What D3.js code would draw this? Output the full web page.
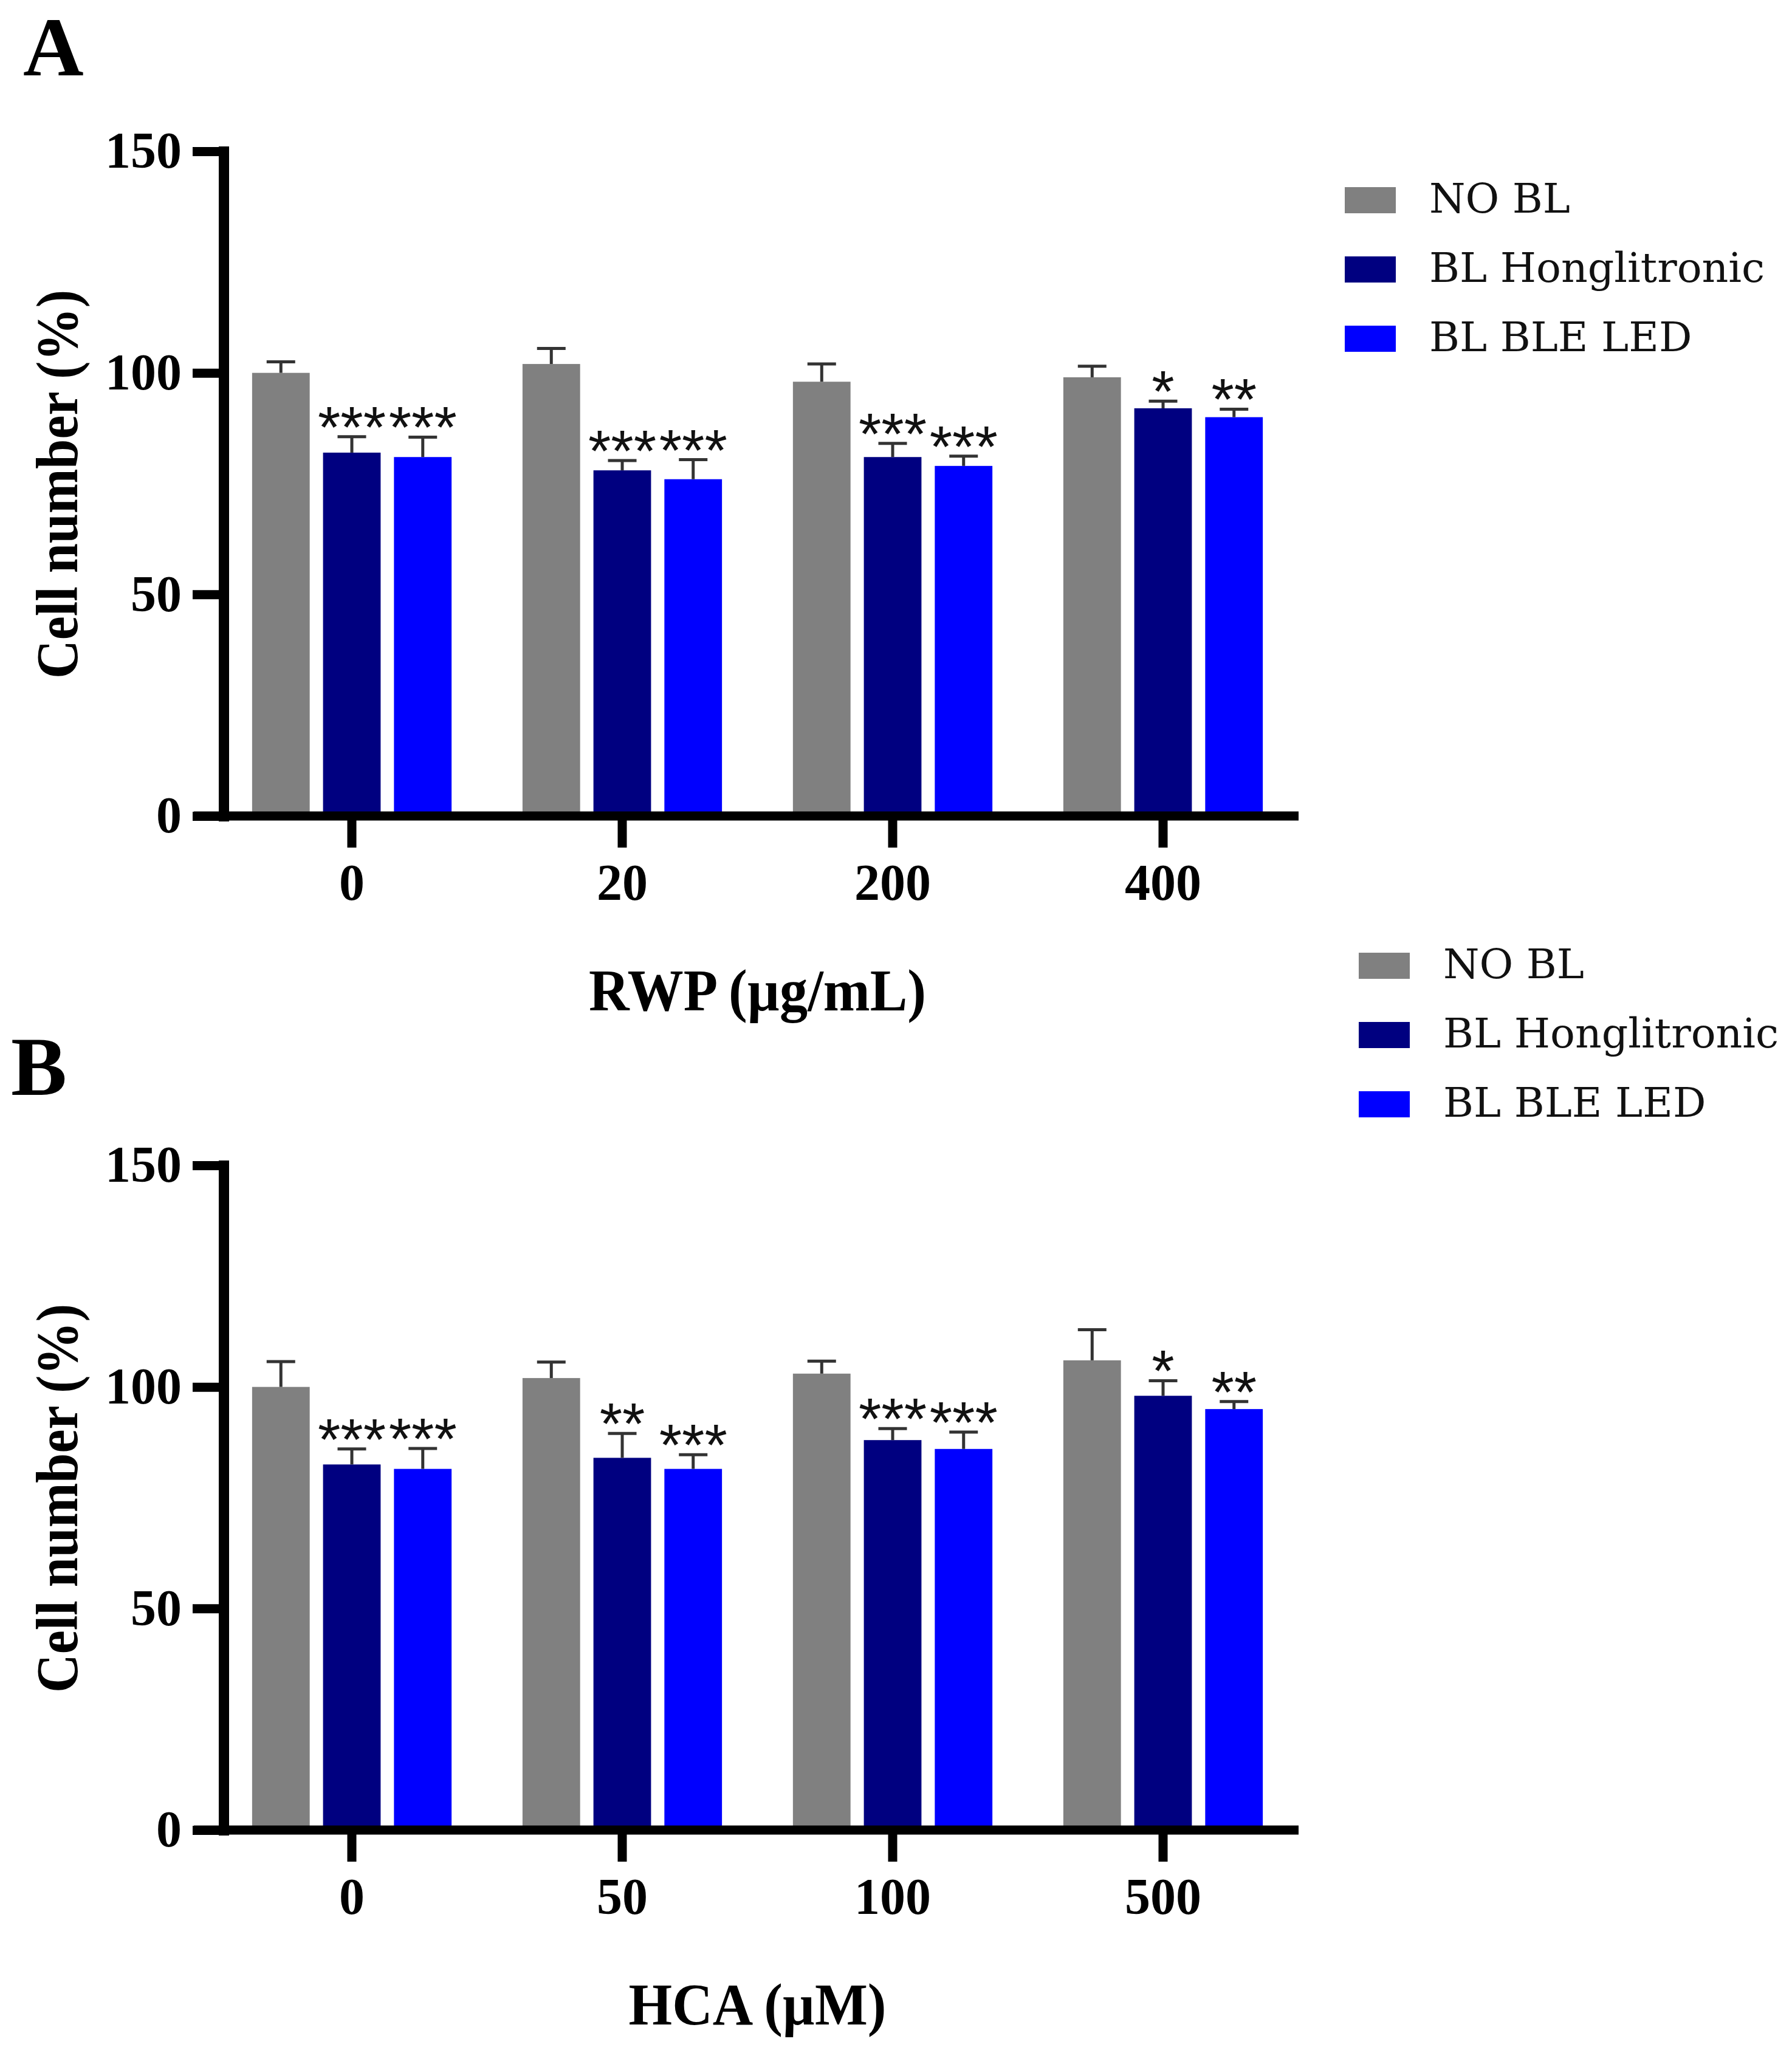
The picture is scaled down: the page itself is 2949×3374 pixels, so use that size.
<!doctype html>
<html lang="en">
<head>
<meta charset="UTF-8">
<title>Cell number</title>
<style>
  html, body { margin: 0; padding: 0; background: #fff; }
  svg { display: block; }
  .serif { font-family: "Liberation Serif", "Times New Roman", serif; }
</style>
</head>
<body>
<svg id="chart" width="2949" height="3374"></svg>
<script src="https://cdn.jsdelivr.net/npm/d3@7"></script>
<script>
const series = ['NO BL', 'BL Honglitronic', 'BL BLE LED']
const colors = ['#808080', '#000080', '#0000ff']
const yTicks = [0, 50, 100, 150]

// panel A - RWP
const rwpDoses = ['0', '20', '200', '400']
const rwpNoBL = [100, 102, 98, 99]
const rwpHong = [82, 78, 81, 92]
const rwpBle = [81, 76, 79, 90]
const rwpNoBLErr = [2.5, 3.5, 4, 2.5]
const rwpHongErr = [3.6, 2.2, 3.1, 1.6]
const rwpBleErr = [4.5, 4.4, 2.2, 1.8]
const rwpNoBLSig = ['', '', '', '']
const rwpHongSig = ['***', '***', '***', '*']
const rwpBleSig = ['***', '***', '***', '**']

// panel B - HCA
const hcaDoses = ['0', '50', '100', '500']
const hcaNoBL = [100, 102, 103, 106]
const hcaHong = [82.5, 84, 88, 98]
const hcaBle = [81.5, 81.5, 86, 95]
const hcaNoBLErr = [5.7, 3.6, 2.8, 6.9]
const hcaHongErr = [3.5, 5.5, 2.6, 3.4]
const hcaBleErr = [4.6, 3.2, 3.8, 1.7]
const hcaNoBLSig = ['', '', '', '']
const hcaHongSig = ['***', '**', '***', '*']
const hcaBleSig = ['***', '***', '***', '**']

// layout (panel A coordinates, panel B is shifted down)
const axisX = 368, axisLeft = 319, axisRight = 2137
const yZero = 1343, yMax = 249
const bandLeft = 356.5, bandRight = 2136.5

const panels = [
  { letter: 'A', title: 'RWP (µg/mL)', titleW: 555, doses: rwpDoses,
    means: [rwpNoBL, rwpHong, rwpBle], errs: [rwpNoBLErr, rwpHongErr, rwpBleErr],
    sigs: [rwpNoBLSig, rwpHongSig, rwpBleSig],
    top: 0, letterX: 38, letterY: 124, legendX: 2213, legendY: 308 },
  { letter: 'B', title: 'HCA (µM)', titleW: 424, doses: hcaDoses,
    means: [hcaNoBL, hcaHong, hcaBle], errs: [hcaNoBLErr, hcaHongErr, hcaBleErr],
    sigs: [hcaNoBLSig, hcaHongSig, hcaBleSig],
    top: 1669, letterX: 18, letterY: 133, legendX: 2236, legendY: -101 }
]

const svg = d3.select('#chart')

const y = d3.scaleLinear().domain([0, 150]).range([yZero, yMax])

panels.forEach(p => {
  const g = svg.append('g').attr('transform', `translate(0,${p.top})`)

  const x0 = d3.scaleBand().domain(p.doses).range([bandLeft, bandRight])
  const x1 = d3.scaleBand().domain(series).range([0, x0.bandwidth()])
    .paddingInner(0.188).paddingOuter(0.5)

  // flatten to one row per bar
  const rows = []
  p.doses.forEach((d, i) => {
    series.forEach((s, k) => {
      rows.push({ dose: d, s: s, k: k, mean: p.means[k][i], err: p.errs[k][i], sig: p.sigs[k][i] })
    })
  })
  const cx = r => x0(r.dose) + x1(r.s) + x1.bandwidth() / 2

  g.selectAll('rect.bar').data(rows).join('rect')
    .attr('class', 'bar')
    .attr('x', r => x0(r.dose) + x1(r.s))
    .attr('width', x1.bandwidth())
    .attr('y', r => y(r.mean))
    .attr('height', r => y(0) - y(r.mean))
    .attr('fill', r => colors[r.k])

  // error bars, upper half only
  const eb = g.selectAll('g.err').data(rows).join('g').attr('class', 'err')
    .attr('stroke', '#333').attr('stroke-width', 5)
  eb.append('line')
    .attr('x1', cx).attr('x2', cx)
    .attr('y1', r => y(r.mean)).attr('y2', r => y(r.mean + r.err))
  eb.append('line')
    .attr('x1', r => cx(r) - 23.5).attr('x2', r => cx(r) + 23.5)
    .attr('y1', r => y(r.mean + r.err)).attr('y2', r => y(r.mean + r.err))

  // y axis
  const ya = g.append('g')
    .attr('transform', `translate(${axisX},0)`)
    .call(d3.axisLeft(y).tickValues(yTicks).tickSize(51).tickSizeOuter(0).tickPadding(18))
  ya.select('.domain').attr('stroke', '#000').attr('stroke-width', 17).attr('stroke-linecap', 'square')
  ya.selectAll('.tick line').attr('stroke', '#000').attr('stroke-width', 15)
  ya.selectAll('.tick text')
    .attr('class', 'serif')
    .attr('font-size', 84).attr('font-weight', 'bold').attr('fill', '#000')

  // x axis
  g.append('line')
    .attr('x1', axisLeft).attr('x2', axisRight)
    .attr('y1', y(0)).attr('y2', y(0))
    .attr('stroke', '#000').attr('stroke-width', 15)
  const xa = g.append('g')
    .attr('transform', `translate(0,${y(0)})`)
    .call(d3.axisBottom(x0).tickSize(52).tickPadding(26))
  xa.select('.domain').remove()
  xa.selectAll('.tick line').attr('stroke', '#000').attr('stroke-width', 15)
  xa.selectAll('.tick text')
    .attr('class', 'serif')
    .attr('font-size', 84).attr('font-weight', 'bold').attr('fill', '#000')

  // significance stars
  g.selectAll('text.sig').data(rows.filter(r => r.sig)).join('text')
    .attr('class', 'sig')
    .attr('x', cx)
    .attr('y', r => y(r.mean + r.err) + 17)
    .attr('text-anchor', 'middle')
    .attr('font-family', '"Liberation Sans", Arial, sans-serif')
    .attr('font-size', 96)
    .attr('fill', '#111')
    .text(r => r.sig)

  // axis titles
  g.append('text')
    .attr('class', 'serif')
    .attr('transform', 'translate(127,797) rotate(-90)')
    .attr('x', -320)
    .attr('textLength', 640).attr('lengthAdjust', 'spacingAndGlyphs')
    .attr('font-size', 98).attr('font-weight', 'bold')
    .text('Cell number (%)')

  const midX = (x0(p.doses[0]) + x0(p.doses[p.doses.length - 1]) + x0.bandwidth()) / 2
  g.append('text')
    .attr('class', 'serif')
    .attr('x', midX - p.titleW / 2).attr('y', 1663)
    .attr('textLength', p.titleW).attr('lengthAdjust', 'spacingAndGlyphs')
    .attr('font-size', 98).attr('font-weight', 'bold')
    .text(p.title)

  // panel letter
  g.append('text')
    .attr('class', 'serif')
    .attr('x', p.letterX).attr('y', p.letterY)
    .attr('font-size', 138).attr('font-weight', 'bold')
    .text(p.letter)

  // legend
  const lg = g.append('g').attr('transform', `translate(${p.legendX},${p.legendY})`)
  const item = lg.selectAll('g').data(series).join('g')
    .attr('transform', (d, i) => `translate(0,${i * 114})`)
  item.append('rect').attr('width', 84).attr('height', 43).attr('fill', (d, i) => colors[i])
  item.append('text')
    .attr('x', 139).attr('y', 42)
    .attr('font-family', '"DejaVu Serif", serif')
    .attr('font-size', 68)
    .attr('fill', '#111')
    .text(d => d)
})
</script>
</body>
</html>
